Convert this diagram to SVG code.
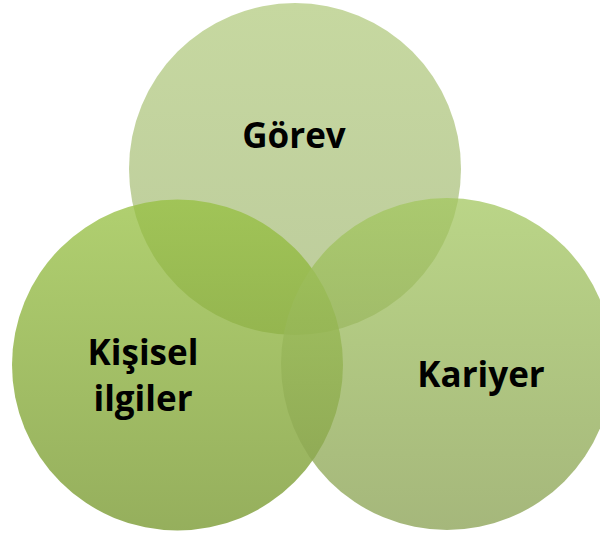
<svg xmlns="http://www.w3.org/2000/svg" width="600" height="535" viewBox="0 0 600 535">
  <defs>
    <linearGradient id="gTop" x1="0" y1="0" x2="0" y2="1">
      <stop offset="0" stop-color="#b3cb80"/>
      <stop offset="1" stop-color="#a6ba7b"/>
    </linearGradient>
    <linearGradient id="gLeft" x1="0" y1="0" x2="0" y2="1">
      <stop offset="0" stop-color="#96c040"/>
      <stop offset="1" stop-color="#729426"/>
    </linearGradient>
    <linearGradient id="gRight" x1="0" y1="0" x2="0" y2="1">
      <stop offset="0" stop-color="#a3c75f"/>
      <stop offset="1" stop-color="#879f4f"/>
    </linearGradient>
    <style>
      .circle { fill-opacity: 0.75; }
      .label { font-family: "Open Sans", "Liberation Sans", sans-serif; font-weight: bold; font-size: 35px; fill: #000; text-anchor: middle; }
    </style>
  </defs>

  <g id="gorev">
    <circle class="circle" cx="295" cy="169" r="166" fill="url(#gTop)"/>
    <text class="label" x="294" y="148">Görev</text>
  </g>

  <g id="kisisel-ilgiler">
    <circle class="circle" cx="177.5" cy="365" r="165.5" fill="url(#gLeft)"/>
    <text class="label" x="143" y="365">Kişisel</text>
    <text class="label" x="143" y="411">ilgiler</text>
  </g>

  <g id="kariyer">
    <circle class="circle" cx="447" cy="364" r="166" fill="url(#gRight)"/>
    <text class="label" x="481" y="387">Kariyer</text>
  </g>

  <g id="connectors"/>
</svg>
